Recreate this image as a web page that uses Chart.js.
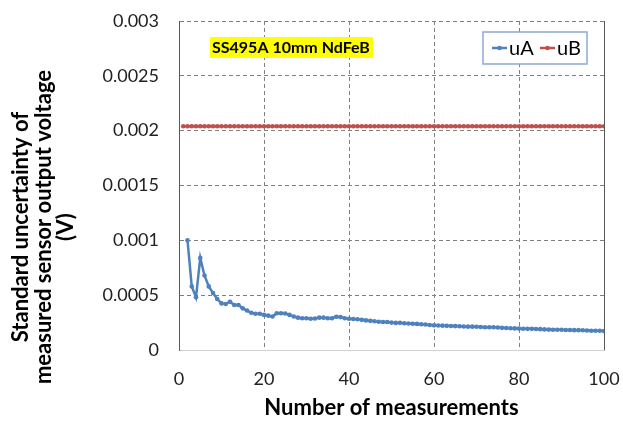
<!DOCTYPE html>
<html>
<head>
<meta charset="utf-8">
<script src="https://cdn.jsdelivr.net/npm/chart.js@4"></script>
<style>
  html, body { margin: 0; padding: 0; background: #fff; }
  #wrap { width: 623px; height: 421px; }
</style>
</head>
<body>
<div id="wrap"><canvas id="chart" width="623" height="421"></canvas></div>
<script>
// uA: standard uncertainty type A, measurements 2..100
const uA = [
  0.001, 0.00058, 0.00048, 0.00084, 0.00068, 0.00058, 0.00052, 0.000465, 0.000425,
  0.00042, 0.00044, 0.00041, 0.00041, 0.00038, 0.00036, 0.00034, 0.00033, 0.00033, 0.00032,
  0.000313, 0.000305, 0.000335, 0.000335, 0.000333, 0.00032, 0.000305, 0.000295, 0.00029, 0.00029,
  0.000285, 0.000287, 0.000295, 0.000295, 0.00029, 0.00029, 0.000303, 0.0003, 0.00029, 0.000285,
  0.000283, 0.00028, 0.000275, 0.00027, 0.000266, 0.000262, 0.000257, 0.000255, 0.000256, 0.00025,
  0.000247, 0.000248, 0.000244, 0.000242, 0.00024, 0.000238, 0.000235, 0.000232, 0.000228, 0.000225,
  0.000223, 0.000222, 0.00022, 0.000219, 0.000218, 0.000216, 0.000214, 0.000213, 0.000213, 0.000212,
  0.00021, 0.000208, 0.000207, 0.000207, 0.000205, 0.000202, 0.0002, 0.000199, 0.000197, 0.000195,
  0.000194, 0.000193, 0.000193, 0.000191, 0.00019, 0.000188, 0.000186, 0.000185, 0.000185, 0.000184,
  0.000183, 0.000182, 0.000181, 0.000181, 0.00018, 0.000178, 0.000176, 0.000175, 0.000175, 0.000173
];
const firstA = 2;

// uB: standard uncertainty type B, measurements 1..100
const uB = [
  0.00204, 0.00204, 0.00204, 0.00204, 0.00204, 0.00204, 0.00204, 0.00204, 0.00204, 0.00204,
  0.00204, 0.00204, 0.00204, 0.00204, 0.00204, 0.00204, 0.00204, 0.00204, 0.00204, 0.00204,
  0.00204, 0.00204, 0.00204, 0.00204, 0.00204, 0.00204, 0.00204, 0.00204, 0.00204, 0.00204,
  0.00204, 0.00204, 0.00204, 0.00204, 0.00204, 0.00204, 0.00204, 0.00204, 0.00204, 0.00204,
  0.00204, 0.00204, 0.00204, 0.00204, 0.00204, 0.00204, 0.00204, 0.00204, 0.00204, 0.00204,
  0.00204, 0.00204, 0.00204, 0.00204, 0.00204, 0.00204, 0.00204, 0.00204, 0.00204, 0.00204,
  0.00204, 0.00204, 0.00204, 0.00204, 0.00204, 0.00204, 0.00204, 0.00204, 0.00204, 0.00204,
  0.00204, 0.00204, 0.00204, 0.00204, 0.00204, 0.00204, 0.00204, 0.00204, 0.00204, 0.00204,
  0.00204, 0.00204, 0.00204, 0.00204, 0.00204, 0.00204, 0.00204, 0.00204, 0.00204, 0.00204,
  0.00204, 0.00204, 0.00204, 0.00204, 0.00204, 0.00204, 0.00204, 0.00204, 0.00204, 0.00204
];
const firstB = 1;

const seriesNames = ["uA", "uB"];
const seriesColors = ["#4F81BD", "#C0504D"];
const yTitle = ["Standard uncertainty of", "measured sensor output voltage", "(V)"];
const xTitle = "Number of measurements";
const noteText = "SS495A 10mm NdFeB";

const toPoints = (vals, start) => vals.map((v, i) => ({ x: start + i, y: v }));
const hideZero = (ctx) => (ctx.tick.value === 0 ? "rgba(0,0,0,0)" : "#808080");

// frame, y title, note box and legend drawn on top of the chart
const extras = {
  id: "extras",
  afterDraw(chart) {
    const { ctx, chartArea: a } = chart;
    ctx.save();
    // right border of plot area
    ctx.strokeStyle = "#595959";
    ctx.lineWidth = 1;
    ctx.beginPath();
    ctx.moveTo(a.right + 0.5, a.top);
    ctx.lineTo(a.right + 0.5, a.bottom);
    ctx.stroke();

    // y axis title, three lines
    ctx.fillStyle = "#000";
    ctx.font = "bold 22px Lato";
    ctx.textAlign = "center";
    ctx.textBaseline = "middle";
    const xs = [21, 44, 66];
    yTitle.forEach((t, i) => {
      ctx.save();
      ctx.translate(xs[i], 227);
      ctx.rotate(-Math.PI / 2);
      ctx.fillText(t, 0, 0);
      ctx.restore();
    });

    // yellow note
    ctx.font = "bold 16px Lato";
    const w = ctx.measureText(noteText).width;
    ctx.fillStyle = "#FFFF00";
    ctx.fillRect(210, 37, w + 5, 21);
    ctx.fillStyle = "#000";
    ctx.textAlign = "left";
    ctx.fillText(noteText, 212, 48);

    // legend
    ctx.fillStyle = "#fff";
    ctx.fillRect(483, 32, 104, 32);
    ctx.strokeStyle = "#8EA9CF";
    ctx.lineWidth = 1.5;
    ctx.strokeRect(483, 32, 104, 32);
    ctx.font = "20px Lato";
    const lx = [492, 540];
    seriesNames.forEach((n, i) => {
      ctx.strokeStyle = seriesColors[i];
      ctx.lineWidth = 2.5;
      ctx.beginPath();
      ctx.moveTo(lx[i], 48);
      ctx.lineTo(lx[i] + 15, 48);
      ctx.stroke();
      ctx.fillStyle = seriesColors[i];
      ctx.beginPath();
      ctx.arc(lx[i] + 7.5, 48, 2.2, 0, Math.PI * 2);
      ctx.fill();
      ctx.fillStyle = "#000";
      ctx.fillText(n, lx[i] + 17, 49);
    });
    ctx.restore();
  }
};

new Chart(document.getElementById("chart"), {
  type: "line",
  data: {
    datasets: [
      {
        label: seriesNames[0],
        data: toPoints(uA, firstA),
        borderColor: seriesColors[0],
        backgroundColor: seriesColors[0],
        borderWidth: 2.5,
        pointRadius: 2.3,
        pointBorderWidth: 0,
        tension: 0,
      },
      {
        label: seriesNames[1],
        data: toPoints(uB, firstB),
        borderColor: seriesColors[1],
        backgroundColor: seriesColors[1],
        borderWidth: 2.5,
        pointRadius: 2.3,
        pointBorderWidth: 0,
        tension: 0,
      },
    ],
  },
  options: {
    responsive: false,
    animation: false,
    layout: { padding: { top: 21, right: 19, left: 0, bottom: 0 } },
    plugins: { legend: { display: false }, tooltip: { enabled: false } },
    scales: {
      x: {
        type: "linear",
        min: 0,
        max: 100,
        ticks: { stepSize: 20, padding: 18, color: "#222", font: { family: "Lato", size: 18 } },
        grid: { color: hideZero, drawTicks: false },
        border: { display: true, color: "#d0d0d0", width: 1, dash: [4, 3] },
        title: {
          display: true,
          text: xTitle,
          color: "#000",
          font: { family: "Lato", size: 22, weight: "bold" },
          padding: { top: 0, bottom: 0 },
        },
        afterFit: (s) => { s.height = 71; s.paddingLeft = 0; s.paddingRight = 0; },
      },
      y: {
        min: 0,
        max: 0.003,
        ticks: {
          stepSize: 0.0005,
          padding: 20,
          color: "#222",
          font: { family: "Lato", size: 18 },
          callback: (v) => String(+v.toFixed(4)),
        },
        grid: { color: hideZero, drawTicks: false },
        border: { display: true, color: "#595959", width: 1, dash: [4, 3] },
        afterFit: (s) => { s.width = 179; s.paddingTop = 0; s.paddingBottom = 0; },
      },
    },
  },
  plugins: [extras],
});
</script>
</body>
</html>
